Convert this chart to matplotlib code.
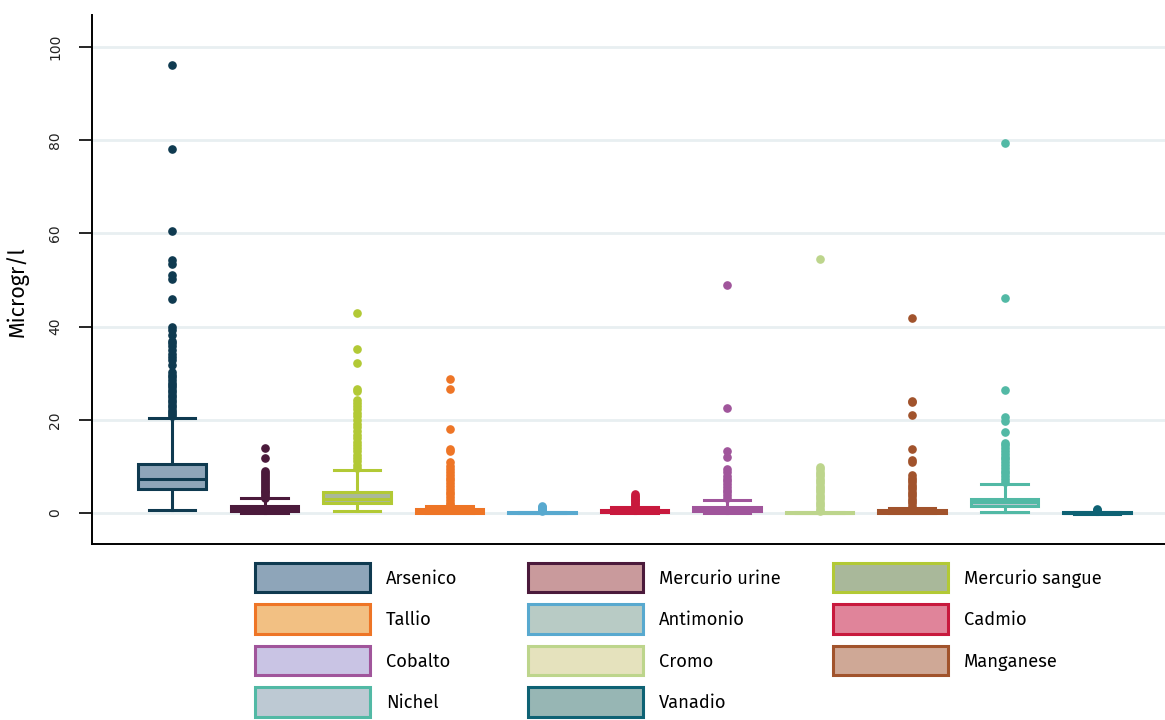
import matplotlib
matplotlib.use("Agg")
import matplotlib.pyplot as plt
from matplotlib.patches import Patch

# ---------------- data ----------------
metals = ["Arsenico", "Mercurio urine", "Mercurio sangue", "Tallio", "Antimonio",
          "Cadmio", "Cobalto", "Cromo", "Manganese", "Nichel", "Vanadio"]

medians = [7.2, 1.0, 2.9, 0.4, 0.07, 0.4, 0.9, 0.1, 0.3, 2.3, 0.02]
q1s     = [5.1, 0.5, 2.1, 0.1, 0.02, 0.15, 0.5, 0.08, 0.1, 1.6, -0.1]
q3s     = [10.5, 1.6, 4.5, 0.9, 0.12, 0.75, 1.35, 0.12, 0.6, 3.0, 0.12]
whislo  = [0.7, 0.06, 0.5, 0.0, 0.0, 0.05, 0.06, 0.08, 0.02, 0.3, -0.2]
whishi  = [20.4, 3.15, 9.3, 1.6, 0.3, 1.35, 2.8, 0.12, 1.15, 6.2, 0.3]

out_arsenico = [96.2, 78.1, 60.5, 54.3, 53.5, 51.0, 50.3, 46.0, 40.0, 39.2, 38.3, 37.0,
                36.5, 35.8, 35.0, 34.2, 33.5, 32.8, 31.8, 30.2, 29.7, 29.2, 28.6, 28.0,
                27.5, 27.0, 26.4, 25.9, 25.3, 24.8, 24.3, 23.8, 23.2, 22.7, 22.2, 21.7,
                21.2, 20.8]
out_hg_urine = [14.0, 11.7, 9.1, 8.6, 8.1, 7.7, 7.2, 6.8, 6.4, 6.0, 5.6, 5.2, 4.8, 4.4,
                4.0, 3.6, 3.3]
out_hg_blood = [43.0, 35.2, 32.1, 26.6, 26.1, 24.3, 23.6, 23.0, 22.3, 21.5, 20.8, 20.0,
                19.2, 18.4, 17.6, 16.8, 16.0, 15.3, 14.6, 13.9, 13.2, 12.5, 11.8, 11.1,
                10.4, 9.7]
out_tallio = [28.7, 26.6, 18.1, 13.7, 13.3, 11.0, 10.0, 9.4, 8.8, 8.2, 7.6, 7.0, 6.4,
              5.8, 5.2, 4.6, 4.0, 3.4, 2.8, 2.2, 1.8]
out_antimonio = [1.4, 1.2, 1.0, 0.8, 0.6, 0.45]
out_cadmio = [4.0, 3.7, 3.4, 3.1, 2.8, 2.5, 2.2, 1.9, 1.6]
out_cobalto = [49.0, 22.5, 13.2, 12.0, 9.4, 8.7, 8.0, 7.4, 6.8, 6.2, 5.6, 5.0, 4.4,
               3.8, 3.2]
out_cromo = [54.5, 9.9, 9.4, 8.9, 8.4, 7.9, 7.4, 6.9, 6.4, 5.9, 5.4, 4.9, 4.4, 3.9,
             3.4, 2.9, 2.4, 1.9, 1.4, 0.9, 0.5]
out_manganese = [41.8, 24.1, 23.8, 21.0, 13.7, 11.4, 10.9, 8.1, 7.6, 7.1, 6.6, 6.1,
                 5.6, 5.1, 4.6, 4.1, 3.6, 3.1, 2.6, 2.1, 1.6]
out_nichel = [79.4, 46.1, 26.4, 20.7, 19.8, 17.3, 15.1, 14.5, 13.9, 13.3, 12.7, 12.1,
              11.5, 10.9, 10.3, 9.7, 9.1, 8.5, 7.9, 7.3, 6.7]
out_vanadio = [0.9, 0.7, 0.5, 0.4]

outliers = [out_arsenico, out_hg_urine, out_hg_blood, out_tallio, out_antimonio,
            out_cadmio, out_cobalto, out_cromo, out_manganese, out_nichel, out_vanadio]

edge_colors = ["#0f3a50", "#4b1a3b", "#b2c935", "#ee7526", "#58a9cf", "#c8193d",
               "#a0559b", "#bdd58c", "#a1532c", "#52b9a5", "#0e6274"]
fill_colors = ["#8ea5b9", "#c99a9c", "#a9b89a", "#f2c083", "#b8cbc5", "#e0849a",
               "#c9c4e4", "#e5e2bd", "#cfa896", "#bdc9d3", "#97b6b4"]

yticks = [0, 20, 40, 60, 80, 100]

# ---------------- figure ----------------
fig = plt.figure(figsize=(11.65, 7.2), dpi=100)
ax = fig.add_axes([92 / 1165, 1 - 544 / 720, 1 - 92 / 1165, (544 - 15) / 720])

humanist = ["Fira Sans", "Open Sans", "DejaVu Sans"]

stats = []
for i, name in enumerate(metals):
    stats.append(dict(label=name, med=medians[i], q1=q1s[i], q3=q3s[i],
                      whislo=whislo[i], whishi=whishi[i], fliers=outliers[i]))

positions = list(range(1, len(metals) + 1))
res = ax.bxp(stats, positions=positions, widths=0.735, capwidths=0.5,
             patch_artist=True, showfliers=True)

lw = 2.2
for i in range(len(metals)):
    ec, fc = edge_colors[i], fill_colors[i]
    box = res["boxes"][i]
    box.set_facecolor(fc)
    box.set_edgecolor(ec)
    box.set_linewidth(lw)
    box.set_zorder(3)
    res["medians"][i].set_color(ec)
    res["medians"][i].set_linewidth(lw)
    res["medians"][i].set_zorder(4)
    for w in res["whiskers"][2 * i:2 * i + 2]:
        w.set_color(ec)
        w.set_linewidth(lw)
    for c in res["caps"][2 * i:2 * i + 2]:
        c.set_color(ec)
        c.set_linewidth(lw)
    fl = res["fliers"][i]
    fl.set_marker("o")
    fl.set_markersize(5.2)
    fl.set_markerfacecolor(ec)
    fl.set_markeredgecolor(ec)
    fl.set_zorder(5)

ax.set_xlim(1 - 80 / 92.5, 11 + 68 / 92.5)
ax.set_ylim(-(544 - 513) / 4.66, (513 - 15) / 4.66)
ax.set_xticks([])
ax.set_yticks(yticks)
ax.set_yticklabels([str(t) for t in yticks], rotation=90, va="center", fontsize=10,
                   color="#222222")
ax.tick_params(axis="y", length=9.5, width=1.2, color="black", pad=12)
ax.grid(axis="y", color="#e8eff1", linewidth=2, zorder=0)
ax.set_axisbelow(True)
for s in ["top", "right"]:
    ax.spines[s].set_visible(False)
for s in ["left", "bottom"]:
    ax.spines[s].set_linewidth(1.4)
    ax.spines[s].set_color("black")
ax.set_ylabel("Microgr/l", fontsize=15.5, family=humanist)
ax.yaxis.set_label_coords((29 - 92) / 1073, (544 - 292) / 529)

# ---------------- legend (three columns, row-wise order) ----------------
fs = 13.2
fs_px = fs * 100 / 72
handles = [Patch(facecolor=fill_colors[i], edgecolor=edge_colors[i], linewidth=2.2)
           for i in range(len(metals))]
columns = [[0, 3, 6, 9], [1, 4, 7, 10], [2, 5, 8]]
col_x = [255, 528, 833]
for idxs, x in zip(columns, col_x):
    leg = fig.legend([handles[k] for k in idxs], [metals[k] for k in idxs],
                     loc="upper left", bbox_to_anchor=(x / 1165, 1 - 563 / 720),
                     bbox_transform=fig.transFigure, frameon=False, borderpad=0,
                     borderaxespad=0, handlelength=115 / fs_px,
                     handleheight=30 / (0.78 * fs_px),
                     labelspacing=12 / fs_px, handletextpad=16 / fs_px,
                     prop={"family": humanist, "size": fs})

fig.savefig("out.png", dpi=100)
